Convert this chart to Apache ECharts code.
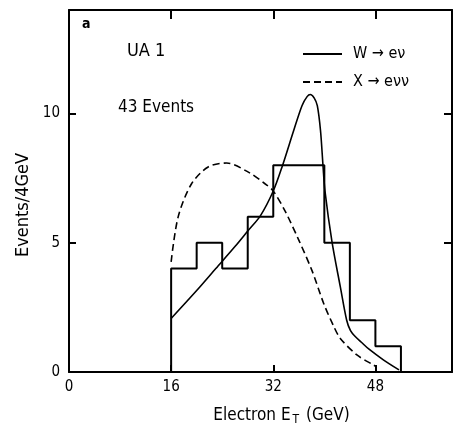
<!DOCTYPE html>
<html>
<head>
<meta charset="utf-8">
<script src="https://cdn.jsdelivr.net/npm/echarts@6/dist/echarts.min.js"></script>
<style>
html,body{margin:0;padding:0;background:#fff;}
#c{width:457px;height:433px;}
</style>
</head>
<body>
<div id="c"></div>
<script>
// Histogram: bin edges (GeV) and counts (43 events)
var binEdges = [16, 20, 24, 28, 32, 36, 40, 44, 48, 52];
var counts   = [4, 5, 4, 6, 8, 8, 5, 2, 1];

// W -> e nu expectation (solid)
var wE = [16, 20, 23, 26, 28, 30, 32, 33.4, 35.2, 36.5, 37.3, 37.8, 38.4, 38.9, 39.4, 39.8, 40.1, 41.2, 42.5, 43.5, 44.1, 44.8, 45.8, 47, 49.3, 51.7];
var wV = [2.07, 3.15, 4.0, 4.85, 5.45, 6.05, 7.0, 7.95, 9.34, 10.3, 10.65, 10.73, 10.6, 10.3, 9.34, 7.95, 7.0, 5.03, 3.3, 2.0, 1.6, 1.38, 1.15, 0.88, 0.46, 0.08];

// X -> e nu nu expectation (dashed)
var xE = [16, 17.1, 19.2, 21.8, 24.7, 28.1, 30.7, 32, 33.9, 36, 38.1, 39.9, 41.5, 42.5, 45.1, 47.7, 48.2];
var xV = [4.26, 6.0, 7.28, 7.93, 8.08, 7.73, 7.28, 7.0, 6.2, 5.1, 3.9, 2.65, 1.75, 1.3, 0.66, 0.27, 0.2];

var xTicks = [0, 16, 32, 48];
var yTicks = [0, 5, 10];

var FONT = '"DejaVu Sans Condensed", "Liberation Sans Narrow", sans-serif';

function zip(a, b) { return a.map(function (v, i) { return [v, b[i]]; }); }

var histData = [[binEdges[0], 0]];
counts.forEach(function (c, i) { histData.push([binEdges[i], c]); });
histData.push([binEdges[binEdges.length - 1], 0]);

var chart = echarts.init(document.getElementById('c'), null, {renderer: 'canvas'});

var axisLineStyle = {color: '#000', width: 2};
var option = {
  backgroundColor: '#fff',
  animation: false,
  grid: {left: 69, right: 5, top: 10, bottom: 61, show: false},
  xAxis: [{
    type: 'value', min: 0, max: 60, interval: 16, position: 'bottom',
    axisLine: {show: true, onZero: false, lineStyle: axisLineStyle},
    axisTick: {show: true, inside: true, length: 7, lineStyle: {color: '#000', width: 2}},
    axisLabel: {show: true, margin: 8, color: '#000', fontSize: 15, fontFamily: FONT, showMaxLabel: false,
      formatter: function (v) { return xTicks.indexOf(v) >= 0 ? String(v) : ''; }},
    splitLine: {show: false},
    name: 'Electron E{sub|T} (GeV)', nameLocation: 'middle', nameGap: 33,
    nameTextStyle: {color: '#000', fontSize: 17, fontFamily: FONT, padding: [0, 0, 0, 42],
      rich: {sub: {fontSize: 12, fontFamily: FONT, color: '#000', verticalAlign: 'bottom', padding: [9, 2, 0, 2]}}}
  }, {
    type: 'value', min: 0, max: 60, interval: 16, position: 'top',
    axisLine: {show: true, onZero: false, lineStyle: axisLineStyle},
    axisTick: {show: true, inside: true, length: 9, lineStyle: {color: '#000', width: 2}},
    axisLabel: {show: false}, splitLine: {show: false}
  }],
  yAxis: [{
    type: 'value', min: 0, max: 14, interval: 5, position: 'left',
    axisLine: {show: true, onZero: false, lineStyle: axisLineStyle},
    axisTick: {show: true, inside: true, length: 7, lineStyle: {color: '#000', width: 2}},
    axisLabel: {show: true, margin: 9, color: '#000', fontSize: 15, fontFamily: FONT, showMaxLabel: false,
      formatter: function (v) { return yTicks.indexOf(v) >= 0 ? String(v) : ''; }},
    splitLine: {show: false},
    name: 'Events/4GeV', nameLocation: 'middle', nameGap: 34,
    nameTextStyle: {color: '#000', fontSize: 18, fontFamily: FONT, padding: [0, 28, 0, 0]}
  }, {
    type: 'value', min: 0, max: 14, interval: 5, position: 'right',
    axisLine: {show: true, onZero: false, lineStyle: axisLineStyle},
    axisTick: {show: true, inside: true, length: 8, lineStyle: {color: '#000', width: 2}},
    axisLabel: {show: false}, splitLine: {show: false}
  }],
  legend: {
    orient: 'vertical', left: 302, top: 46, padding: 0, itemWidth: 39, itemHeight: 14, itemGap: 12,
    data: ['W \u2192 e\u03bd', 'X \u2192 e\u03bd\u03bd'],
    textStyle: {color: '#000', fontSize: 16, fontFamily: FONT, padding: [0, 0, 0, 6]},
    itemStyle: {color: 'rgba(0,0,0,0)', borderColor: 'rgba(0,0,0,0)', borderWidth: 0},
    selectedMode: false
  },
  graphic: [
    {type: 'text', left: 82, top: 17, style: {text: 'a', fontSize: 14, fontWeight: 'bold', fontFamily: FONT, fill: '#000'}},
    {type: 'text', left: 127, top: 42, style: {text: 'UA 1', fontSize: 18, fontFamily: FONT, fill: '#000'}},
    {type: 'text', left: 118, top: 99, style: {text: '43 Events', fontSize: 17, fontFamily: FONT, fill: '#000'}}
  ],
  series: [{
    name: 'hist', type: 'line', step: 'end', data: histData, symbol: 'none',
    lineStyle: {color: '#000', width: 2}, z: 3
  }, {
    name: 'W \u2192 e\u03bd', type: 'line', data: zip(wE, wV), smooth: 0.3, symbol: 'none',
    lineStyle: {color: '#000', width: 1.6}, z: 4
  }, {
    name: 'X \u2192 e\u03bd\u03bd', type: 'line', data: zip(xE, xV), smooth: 0.3, symbol: 'none',
    lineStyle: {color: '#000', width: 1.6, type: [7, 4]}, z: 4
  }]
};
chart.setOption(option);
</script>
</body>
</html>
